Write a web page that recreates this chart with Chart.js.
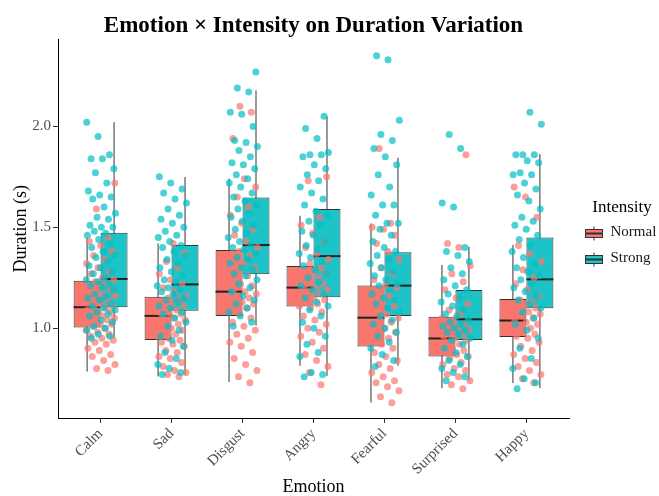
<!DOCTYPE html>
<html>
<head>
<meta charset="utf-8">
<script src="https://cdn.jsdelivr.net/npm/chart.js@4.4.1/dist/chart.umd.min.js"></script>
<style>
  html, body { margin: 0; padding: 0; background: #fff; }
  canvas { display: block; }
</style>
</head>
<body>
<canvas id="chart" width="659" height="496"></canvas>
<script>
const emotions = ['Calm', 'Sad', 'Disgust', 'Angry', 'Fearful', 'Surprised', 'Happy'];
const intensities = ['Normal', 'Strong'];
const yTicks = [1.0, 1.5, 2.0];

// box statistics per emotion
const normalLow    = [0.785, 0.761, 0.733, 0.814, 0.632, 0.703, 0.728];
const normalQ1     = [1.003, 0.942, 1.061, 1.107, 0.909, 0.860, 0.956];
const normalMedian = [1.104, 1.061, 1.181, 1.201, 1.052, 0.949, 1.038];
const normalQ3     = [1.235, 1.156, 1.387, 1.308, 1.211, 1.057, 1.145];
const normalHigh   = [1.448, 1.420, 1.741, 1.557, 1.519, 1.313, 1.412];

const strongLow    = [0.951, 0.769, 1.013, 0.764, 0.814, 0.740, 0.703];
const strongQ1     = [1.104, 1.086, 1.267, 1.153, 1.061, 0.942, 1.099];
const strongMedian = [1.244, 1.217, 1.412, 1.357, 1.211, 1.044, 1.242];
const strongQ3     = [1.473, 1.412, 1.648, 1.591, 1.376, 1.189, 1.450];
const strongHigh   = [2.021, 1.749, 2.178, 2.049, 1.845, 1.403, 1.862];

// jittered observations (estimated)
const calmNormal = [0.79, 0.80, 0.82, 0.84, 0.86, 0.87, 0.89, 0.90, 0.92, 0.93, 0.94, 0.95, 0.96, 0.97, 0.98, 0.99,
  1.00, 1.01, 1.02, 1.02, 1.03, 1.04, 1.05, 1.05, 1.06, 1.07, 1.08, 1.08, 1.09, 1.10, 1.10,
  1.11, 1.12, 1.13, 1.14, 1.15, 1.16, 1.17, 1.18, 1.19, 1.20, 1.21, 1.22, 1.23, 1.24,
  1.25, 1.27, 1.28, 1.30, 1.32, 1.34, 1.36, 1.38, 1.41, 1.43, 1.45, 1.59, 1.72];
const calmStrong = [0.95, 0.96, 0.97, 0.99, 1.00, 1.01, 1.03, 1.04, 1.06, 1.07, 1.08, 1.09, 1.10,
  1.11, 1.12, 1.14, 1.15, 1.16, 1.17, 1.19, 1.20, 1.21, 1.22, 1.23, 1.24,
  1.25, 1.27, 1.28, 1.30, 1.31, 1.33, 1.35, 1.36, 1.38, 1.40, 1.42, 1.44, 1.46, 1.47,
  1.48, 1.50, 1.50, 1.51, 1.54, 1.55, 1.57, 1.60, 1.64, 1.65, 1.66, 1.68, 1.72, 1.77, 1.79, 1.84, 1.84, 1.86, 1.95, 2.02];
const sadNormal = [0.76, 0.77, 0.78, 0.79, 0.81, 0.83, 0.85, 0.86, 0.88, 0.89, 0.91, 0.92, 0.93, 0.94,
  0.95, 0.96, 0.97, 0.98, 0.99, 1.00, 1.01, 1.02, 1.03, 1.04, 1.05, 1.06,
  1.07, 1.07, 1.08, 1.09, 1.10, 1.11, 1.12, 1.13, 1.14, 1.15, 1.16,
  1.18, 1.20, 1.22, 1.24, 1.27, 1.30, 1.33, 1.37, 1.42];
const sadStrong = [0.77, 0.78, 0.80, 0.82, 0.85, 0.88, 0.91, 0.94, 0.96, 0.99, 1.01, 1.03, 1.05, 1.07, 1.08,
  1.10, 1.11, 1.13, 1.14, 1.15, 1.17, 1.18, 1.19, 1.20, 1.21,
  1.23, 1.24, 1.26, 1.28, 1.30, 1.32, 1.34, 1.36, 1.38, 1.40, 1.41,
  1.43, 1.45, 1.46, 1.48, 1.50, 1.52, 1.54, 1.56, 1.59, 1.62, 1.64, 1.67, 1.69, 1.72, 1.75];
const disgustNormal = [0.73, 0.76, 0.79, 0.82, 0.85, 0.88, 0.91, 0.93, 0.95, 0.97, 0.99, 1.01, 1.03, 1.05,
  1.07, 1.08, 1.10, 1.11, 1.12, 1.13, 1.14, 1.15, 1.16, 1.17, 1.18,
  1.19, 1.21, 1.22, 1.24, 1.26, 1.28, 1.30, 1.32, 1.34, 1.36, 1.38,
  1.40, 1.43, 1.46, 1.49, 1.52, 1.56, 1.60, 1.65, 1.70, 1.74, 1.94, 2.07, 2.10];
const disgustStrong = [1.01, 1.03, 1.06, 1.08, 1.10, 1.12, 1.14, 1.16, 1.18, 1.20, 1.22, 1.24, 1.26,
  1.27, 1.29, 1.30, 1.32, 1.34, 1.35, 1.37, 1.39, 1.40, 1.41,
  1.43, 1.45, 1.47, 1.49, 1.51, 1.53, 1.55, 1.57, 1.59, 1.61, 1.63, 1.65,
  1.67, 1.70, 1.72, 1.74, 1.76, 1.79, 1.81, 1.82, 1.85, 1.88, 1.90, 1.92, 1.93, 2.00, 2.06, 2.07, 2.17, 2.19, 2.27];
const angryNormal = [0.72, 0.78, 0.81, 0.84, 0.87, 0.90, 0.93, 0.96, 0.98, 1.00, 1.02, 1.04, 1.06, 1.08, 1.10,
  1.11, 1.12, 1.13, 1.14, 1.15, 1.16, 1.17, 1.18, 1.19, 1.20,
  1.21, 1.22, 1.23, 1.24, 1.25, 1.26, 1.27, 1.28, 1.29, 1.30,
  1.32, 1.34, 1.37, 1.40, 1.43, 1.47, 1.51, 1.55, 1.73, 1.75];
const angryStrong = [0.76, 0.77, 0.78, 0.86, 0.88, 0.92, 0.96, 1.00, 1.03, 1.06, 1.09, 1.11, 1.13, 1.15,
  1.17, 1.19, 1.21, 1.23, 1.25, 1.27, 1.29, 1.31, 1.33, 1.35,
  1.37, 1.39, 1.41, 1.43, 1.46, 1.48, 1.51, 1.53, 1.56, 1.58,
  1.61, 1.64, 1.67, 1.70, 1.73, 1.76, 1.79, 1.81, 1.85, 1.86, 1.86, 1.87, 1.94, 1.99, 2.05];
const fearfulNormal = [0.63, 0.66, 0.69, 0.71, 0.73, 0.74, 0.76, 0.78, 0.80, 0.82, 0.84, 0.86, 0.88, 0.90,
  0.92, 0.94, 0.95, 0.97, 0.98, 1.00, 1.01, 1.03, 1.04, 1.05,
  1.07, 1.09, 1.11, 1.12, 1.14, 1.16, 1.18, 1.20, 1.21,
  1.24, 1.27, 1.30, 1.34, 1.38, 1.42, 1.46, 1.49, 1.50, 1.52, 1.89];
const fearfulStrong = [0.81, 0.84, 0.87, 0.90, 0.93, 0.96, 0.98, 1.00, 1.02, 1.04, 1.06,
  1.08, 1.10, 1.12, 1.14, 1.15, 1.17, 1.19, 1.21,
  1.22, 1.24, 1.26, 1.28, 1.30, 1.32, 1.34, 1.36, 1.38,
  1.40, 1.43, 1.46, 1.49, 1.52, 1.52, 1.56, 1.61, 1.61, 1.66, 1.70, 1.76, 1.81, 1.85, 1.89, 1.93, 1.96, 2.03, 2.33, 2.35];
const surprisedNormal = [0.70, 0.72, 0.74, 0.76, 0.77, 0.79, 0.80, 0.82, 0.83, 0.85, 0.86,
  0.87, 0.88, 0.89, 0.90, 0.91, 0.92, 0.93, 0.94, 0.95,
  0.96, 0.97, 0.98, 0.99, 1.00, 1.01, 1.02, 1.04, 1.05,
  1.07, 1.09, 1.12, 1.15, 1.19, 1.23, 1.27, 1.31, 1.40, 1.42, 1.86];
const surprisedStrong = [0.74, 0.76, 0.78, 0.80, 0.82, 0.84, 0.86, 0.88, 0.90, 0.92, 0.94,
  0.95, 0.97, 0.98, 0.99, 1.00, 1.01, 1.02, 1.03, 1.04,
  1.06, 1.07, 1.09, 1.11, 1.13, 1.15, 1.17, 1.19,
  1.21, 1.24, 1.27, 1.30, 1.33, 1.36, 1.38, 1.40, 1.60, 1.62, 1.89, 1.96];
const happyNormal = [0.73, 0.75, 0.77, 0.79, 0.81, 0.83, 0.85, 0.87, 0.89, 0.91, 0.93, 0.95,
  0.96, 0.97, 0.98, 0.99, 1.00, 1.01, 1.02, 1.03, 1.04,
  1.05, 1.06, 1.07, 1.08, 1.09, 1.10, 1.11, 1.12, 1.13, 1.14,
  1.16, 1.19, 1.22, 1.25, 1.29, 1.33, 1.37, 1.41, 1.55, 1.65, 1.70];
const happyStrong = [0.70, 0.73, 0.75, 0.80, 0.85, 0.90, 0.95, 0.99, 1.02, 1.05, 1.08, 1.10,
  1.12, 1.14, 1.16, 1.18, 1.20, 1.22, 1.24,
  1.26, 1.28, 1.30, 1.32, 1.35, 1.38, 1.41, 1.44,
  1.46, 1.49, 1.51, 1.53, 1.55, 1.59, 1.63, 1.66, 1.69, 1.72, 1.76, 1.76, 1.77, 1.82, 1.83, 1.86, 1.86, 1.86, 2.01, 2.07];

const normalGroups = [calmNormal, sadNormal, disgustNormal, angryNormal, fearfulNormal, surprisedNormal, happyNormal];
const strongGroups = [calmStrong, sadStrong, disgustStrong, angryStrong, fearfulStrong, surprisedStrong, happyStrong];

const pink = '#F8766D';
const teal = '#1DC4C7';
const serif = "'Liberation Serif', 'Times New Roman', serif";

Chart.defaults.font.family = serif;
Chart.defaults.color = '#4d4d4d';

// spread points sideways around the category (deterministic jitter)
function jitter(i, seed) {
  return (((i + 1) * 0.6180339887 + seed) % 1 - 0.5) * 0.42;
}

function pointsFor(groups, seed) {
  const pts = [];
  groups.forEach((vals, k) => {
    vals.forEach((v, i) => pts.push({ x: k + 1 + jitter(i, seed), y: v }));
  });
  return pts;
}

function boxesFor(q1, q3) {
  return emotions.map((e, i) => ({ x: i + 1, y: [q1[i], q3[i]] }));
}

// whiskers under each box, median line on top of it
const boxWhiskers = {
  id: 'boxWhiskers',
  beforeDatasetDraw(chart, args) {
    const ds = chart.data.datasets[args.index];
    if (!ds.whiskerLow) return;
    const y = chart.scales.y;
    const ctx = chart.ctx;
    ctx.save();
    ctx.strokeStyle = '#333333';
    ctx.lineWidth = 1;
    args.meta.data.forEach((bar, i) => {
      ctx.beginPath();
      ctx.moveTo(bar.x, y.getPixelForValue(ds.whiskerLow[i]));
      ctx.lineTo(bar.x, y.getPixelForValue(ds.whiskerHigh[i]));
      ctx.stroke();
    });
    ctx.restore();
  },
  afterDatasetDraw(chart, args) {
    const ds = chart.data.datasets[args.index];
    if (!ds.median) return;
    const y = chart.scales.y;
    const ctx = chart.ctx;
    ctx.save();
    ctx.strokeStyle = '#222222';
    ctx.lineWidth = 2;
    args.meta.data.forEach((bar, i) => {
      const py = y.getPixelForValue(ds.median[i]);
      ctx.beginPath();
      ctx.moveTo(bar.x - bar.width / 2, py);
      ctx.lineTo(bar.x + bar.width / 2, py);
      ctx.stroke();
    });
    ctx.restore();
  }
};

// small boxplot glyphs in the legend key slots
const legendKeys = {
  id: 'legendKeys',
  afterDraw(chart) {
    const ctx = chart.ctx;
    const colors = [pink, teal];
    chart.legend.legendHitBoxes.forEach((hb, i) => {
      const left = hb.left + 0.5;
      const cx = left + 8.5;
      const cy = Math.round(hb.top + hb.height / 2) + 0.5;
      ctx.save();
      ctx.strokeStyle = '#333333';
      ctx.lineWidth = 1;
      ctx.beginPath();
      ctx.moveTo(cx, cy - 7);
      ctx.lineTo(cx, cy + 7);
      ctx.stroke();
      ctx.fillStyle = colors[i];
      ctx.fillRect(left, cy - 4, 17, 8);
      ctx.strokeRect(left, cy - 4, 17, 8);
      ctx.lineWidth = 2;
      ctx.beginPath();
      ctx.moveTo(left, cy);
      ctx.lineTo(left + 17, cy);
      ctx.stroke();
      ctx.restore();
    });
  }
};

new Chart(document.getElementById('chart'), {
  type: 'bar',
  data: {
    datasets: [{
      type: 'bar',
      label: 'Normal',
      data: boxesFor(normalQ1, normalQ3),
      backgroundColor: pink,
      borderColor: '#333333',
      borderWidth: 1,
      borderSkipped: false,
      categoryPercentage: 0.76,
      barPercentage: 1,
      xAxisID: 'x', yAxisID: 'y',
      order: 3,
      whiskerLow: normalLow,
      whiskerHigh: normalHigh,
      median: normalMedian
    }, {
      type: 'bar',
      label: 'Strong',
      data: boxesFor(strongQ1, strongQ3),
      backgroundColor: teal,
      borderColor: '#333333',
      borderWidth: 1,
      borderSkipped: false,
      categoryPercentage: 0.76,
      barPercentage: 1,
      xAxisID: 'x', yAxisID: 'y',
      order: 3,
      whiskerLow: strongLow,
      whiskerHigh: strongHigh,
      median: strongMedian
    }, {
      type: 'scatter',
      label: 'Normal points',
      data: pointsFor(normalGroups, 0.13),
      backgroundColor: 'rgba(248,118,109,0.7)',
      borderWidth: 0,
      pointRadius: 3.5,
      xAxisID: 'x', yAxisID: 'y',
      order: 2
    }, {
      type: 'scatter',
      label: 'Strong points',
      data: pointsFor(strongGroups, 0.57),
      backgroundColor: 'rgba(0,191,196,0.7)',
      borderWidth: 0,
      pointRadius: 3.5,
      xAxisID: 'x', yAxisID: 'y',
      order: 1
    }]
  },
  options: {
    responsive: false,
    animation: false,
    devicePixelRatio: 1,
    layout: { padding: 0 },
    plugins: {
      title: {
        display: true,
        text: 'Emotion × Intensity on Duration Variation',
        fullSize: false,
        color: '#000',
        font: { size: 23, weight: 'bold' },
        padding: { top: 12, bottom: 0 }
      },
      legend: {
        position: 'right',
        fullSize: false,
        maxWidth: 74,
        title: {
          display: true,
          text: 'Intensity',
          color: '#000',
          font: { size: 17 },
          padding: { top: 13, bottom: 0 }
        },
        labels: {
          boxWidth: 18,
          boxHeight: 26,
          padding: 0,
          color: '#1a1a1a',
          font: { size: 15 },
          generateLabels: () => intensities.map((t, i) => ({
            text: t,
            fillStyle: 'rgba(0,0,0,0)',
            strokeStyle: 'rgba(0,0,0,0)',
            lineWidth: 0,
            fontColor: '#1a1a1a',
            hidden: false,
            datasetIndex: i
          }))
        }
      },
      tooltip: { enabled: false }
    },
    scales: {
      x: {
        type: 'linear',
        min: 0.4,
        max: 7.6,
        offset: false,
        afterBuildTicks: s => { s.ticks = emotions.map((e, i) => ({ value: i + 1 })); },
        afterFit: s => { s.height = 78; },
        ticks: {
          autoSkip: false,
          minRotation: 45,
          maxRotation: 45,
          padding: 2,
          color: '#4d4d4d',
          font: { size: 15 },
          callback: v => emotions[v - 1]
        },
        grid: { display: true, offset: false, drawOnChartArea: false, tickLength: 5, tickColor: '#333333' },
        border: { display: true, color: '#000', width: 1 },
        title: { display: true, text: 'Emotion', color: '#000', font: { size: 18, lineHeight: 1 }, padding: { top: 0, bottom: 0 } }
      },
      y: {
        type: 'linear',
        min: 0.555,
        max: 2.43,
        afterBuildTicks: s => { s.ticks = yTicks.map(v => ({ value: v })); },
        afterFit: s => { s.width = 58; },
        ticks: {
          padding: 2,
          color: '#4d4d4d',
          font: { size: 15 },
          callback: v => v.toFixed(1)
        },
        grid: { display: true, drawOnChartArea: false, tickLength: 5, tickColor: '#333333' },
        border: { display: true, color: '#000', width: 1 },
        title: { display: true, text: 'Duration (s)', color: '#000', font: { size: 18, lineHeight: 1 }, padding: { top: 12, bottom: 0 } }
      },
      gap: {
        type: 'linear',
        position: 'right',
        display: true,
        afterFit: s => { s.width = 16; },
        ticks: { display: false },
        grid: { display: false },
        border: { display: false }
      }
    }
  },
  plugins: [boxWhiskers, legendKeys]
});
</script>
</body>
</html>
